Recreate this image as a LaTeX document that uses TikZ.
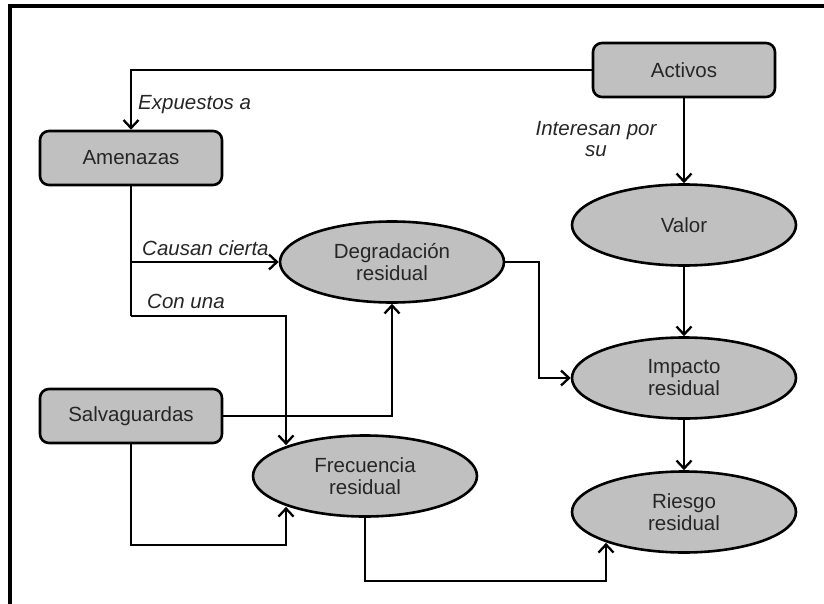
\documentclass[tikz,border=0pt]{standalone}
\usepackage{fontspec}
\setmainfont{Liberation Sans}
\usetikzlibrary{shapes.geometric,arrows.meta}
\definecolor{boxgray}{HTML}{C0C0C0}
\definecolor{inkgray}{HTML}{262626}
\begin{document}
\begin{tikzpicture}[x=1pt,y=-1pt,
  every node/.style={font=\fontsize{20.5}{22}\selectfont, text=inkgray},
  boxnode/.style={draw, line width=2.6pt, fill=boxgray, rounded corners=9pt,
    minimum width=182pt, minimum height=54pt, inner sep=0pt},
  ovalnode/.style={draw, line width=2.6pt, fill=boxgray, ellipse,
    minimum width=224pt, minimum height=81pt, inner sep=0pt, align=center},
  arr/.style={line width=2.3pt, -{Straight Barb[length=8pt,width=15pt,line width=2.3pt]}},
  link/.style={line width=2.3pt},
  tag/.style={font=\fontsize{20.5}{21}\selectfont\itshape}]
\useasboundingbox (0,0) rectangle (824,604);
\begin{scope}
  \clip (0,0) rectangle (824,604);
  \draw[line width=3.4pt] (10,640) -- (10,6) -- (860,6);
\end{scope}

% boxes
\node[boxnode] (act) at (684,70) {Activos};
\node[boxnode] (ame) at (131,158) {Amenazas};
\node[boxnode] (sal) at (131,416) {Salvaguardas};

% ellipses
\node[ovalnode] (val) at (684,225) {Valor};
\node[ovalnode] (deg) at (392,262) {Degradación\\residual};
\node[ovalnode] (imp) at (684,378) {Impacto\\residual};
\node[ovalnode] (fre) at (365,476) {Frecuencia\\residual};
\node[ovalnode] (rie) at (684,512) {Riesgo\\residual};

% bend points
\coordinate (j1) at (131,262);
\coordinate (j2) at (131,316);
\coordinate (k2) at (286,316);
\coordinate (k3) at (286,545);
\coordinate (m1) at (539,0);
\coordinate (n1) at (606,581);

% connectors
\draw[arr] (act.west) -| (ame.north);
\draw[arr] (act.south) -- (val.north);
\draw[link] (ame.south) -- (j2);
\draw[arr] (j1) -- (deg.west);
\draw[arr] (j2) -- (k2) -- (k2 |- fre.158);
\draw[arr] (sal.east) -| (deg.south);
\draw[arr] (sal.south) |- (k3) -- (k3 |- fre.202);
\draw[arr] (deg.east) -| (m1 |- imp.west) -- (imp.west);
\draw[arr] (val.south) -- (imp.north);
\draw[arr] (imp.south) -- (rie.north);
\draw[arr] (fre.south) |- (n1) -- (n1 |- rie.202);

% labels
\node[tag, anchor=base west, inner sep=0pt] (l1) at (138,110) {Expuestos a};
\node[tag, anchor=base, align=center, inner sep=0pt] (l2) at (596,157) {Interesan por\\su};
\node[tag, anchor=base west, inner sep=0pt] (l3) at (142,255) {Causan cierta};
\node[tag, anchor=base west, inner sep=0pt] (l4) at (147,308) {Con una};
\end{tikzpicture}
\end{document}
